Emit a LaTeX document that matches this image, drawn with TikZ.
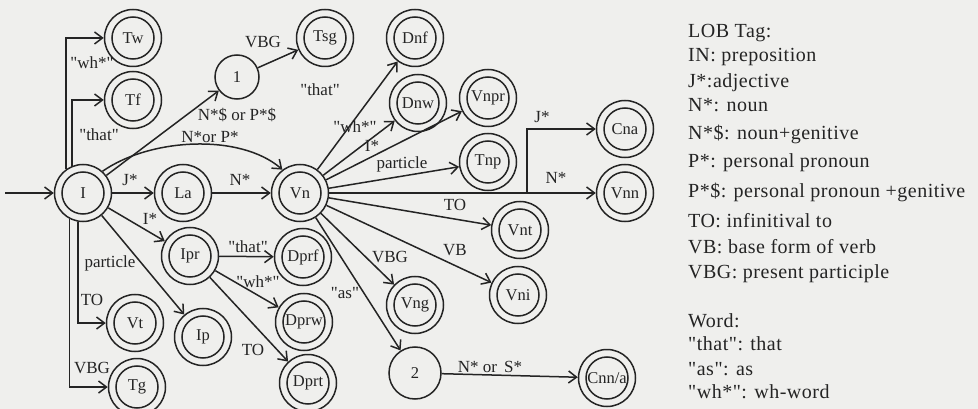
\documentclass[tikz,border=0pt]{standalone}
\usepackage{fontspec}
\setmainfont{Liberation Serif}[Ligatures=TeXOff]
\newfontfamily\legendfont{Liberation Serif}[Ligatures=TeXOff, LetterSpace=2.5]
\usetikzlibrary{arrows.meta}
\definecolor{ink}{RGB}{36,36,36}
\definecolor{paper}{RGB}{239,239,237}

\begin{document}
\begin{tikzpicture}[x=1pt,y=-1pt,
  every node/.style={text=ink},
  acc/.style={circle, draw=ink, line width=1.5pt, minimum size=57pt, inner sep=0pt,
    font=\fontsize{16.5}{16.5}\selectfont,
    path picture={\draw[ink, line width=1.5pt] (path picture bounding box.center) circle[radius=21pt];}},
  st/.style={circle, draw=ink, line width=1.5pt, inner sep=0pt, font=\fontsize{16.5}{16.5}\selectfont},
  arr/.style={draw=ink, line width=1.5pt, -{Straight Barb[length=8pt,width=12pt,line width=1.5pt]}},
  lab/.style={font=\fontsize{17}{17}\selectfont, inner sep=0pt},
  leg/.style={font=\legendfont\fontsize{20}{20}\selectfont, anchor=base west, inner sep=0pt}]

% paper
\fill[paper] (0,0) rectangle (978,409);
\useasboundingbox (0,0) rectangle (978,409);

% states
\node[acc] (I)    at (83,193)  {I};
\node[acc] (Tw)   at (133,38)  {Tw};
\node[acc] (Tf)   at (133,100) {Tf};
\node[st, minimum size=44pt] (n1) at (237,77) {1};
\node[acc] (Tsg)  at (325,38)  {Tsg};
\node[acc] (Dnf)  at (415,38)  {Dnf};
\node[acc] (Dnw)  at (418,103) {Dnw};
\node[acc] (Vnpr) at (488,98)  {Vnpr};
\node[acc] (Tnp)  at (488,162) {Tnp};
\node[acc] (Cna)  at (625,129) {Cna};
\node[acc] (Vnn)  at (625,193) {Vnn};
\node[acc] (La)   at (183,193) {La};
\node[acc] (Vn)   at (300,193) {Vn};
\node[acc] (Ipr)  at (190,256) {Ipr};
\node[acc] (Dprf) at (303,257) {Dprf};
\node[acc] (Dprw) at (304,322) {Dprw};
\node[acc] (Dprt) at (308,383) {Dprt};
\node[acc] (Vt)   at (135,323) {Vt};
\node[acc] (Ip)   at (203,337) {Ip};
\node[acc] (Tg)   at (137,387) {Tg};
\node[acc] (Vnt)  at (520,230) {Vnt};
\node[acc] (Vni)  at (518,295) {Vni};
\node[acc] (Vng)  at (415,305) {Vng};
\node[st, minimum size=52pt] (n2) at (415,373) {2};
\node[acc] (Cnn)  at (607,378) {Cnn/a};

\coordinate (start) at (5,193);
\coordinate (split) at (527,193);

% transitions
\draw[arr] (start) -- (I);
\draw[arr] (I.125) |- (Tw.west);
\draw[arr] (I.112) |- (Tf.west);
\draw[arr] (I.242) |- (Tg.west);
\draw[arr] (I.260) |- (Vt.west);
\draw[arr] (I) -- (La);
\draw[arr] (La) -- (Vn);
\draw[arr] (I) -- (n1);
\draw[arr] (I.48) .. controls (150,138) and (240,133) .. (Vn.127);
\draw[arr] (n1) -- (Tsg);
\draw[arr] (I) -- (Ipr);
\draw[arr] (I) -- (Ip);
\draw[arr] (Ipr) -- (Dprf);
\draw[arr] (Ipr) -- (Dprw);
\draw[arr] (Ipr) -- (Dprt);
\draw[arr] (Vn) -- (Dnf);
\draw[arr] (Vn) -- (Dnw);
\draw[arr] (Vn) -- (Vnpr);
\draw[arr] (Vn) -- (Tnp);
\draw[arr] (Vn) -- (Vnn);
\draw[arr] (split) |- (Cna.west);
\draw[arr] (Vn) -- (Vnt);
\draw[arr] (Vn) -- (Vni);
\draw[arr] (Vn) -- (Vng);
\draw[arr] (Vn) -- (n2);
\draw[arr] (n2) -- (Cnn);

% transition labels
\node[lab] (l-tw)   at (92,63)   {"wh*"};
\node[lab] (l-tf)   at (99,135)  {"that"};
\node[lab] (l-n1)   at (237,115) {N*\$ or P*\$};
\node[lab] (l-cv)   at (210,137) {N*or P*};
\node[lab] (l-tsg)  at (263,42)  {VBG};
\node[lab] (l-la)   at (130,180) {J*};
\node[lab] (l-vn)   at (240,180) {N*};
\node[lab] (l-ipr)  at (150,219) {I*};
\node[lab] (l-ip)   at (110,263) {particle};
\node[lab] (l-vt)   at (92,300)  {TO};
\node[lab] (l-tg)   at (92,368)  {VBG};
\node[lab] (l-dprf) at (248,247) {"that"};
\node[lab] (l-dprw) at (258,282) {"wh*"};
\node[lab] (l-dprt) at (253,350) {TO};
\node[lab] (l-dnf)  at (320,90)  {"that"};
\node[lab] (l-dnw)  at (355,127) {"wh*"};
\node[lab] (l-vnpr) at (372,146) {I*};
\node[lab] (l-tnp)  at (402,164) {particle};
\node[lab] (l-cna)  at (542,117) {J*};
\node[lab] (l-vnn)  at (556,178) {N*};
\node[lab] (l-vnt)  at (455,205) {TO};
\node[lab] (l-vni)  at (455,250) {VB};
\node[lab] (l-vng)  at (390,257) {VBG};
\node[lab] (l-n2)   at (345,293) {"as"};
\node[lab] (l-cnn)  at (490,367) {N* or\, S*};

% legend
\node[leg] (g1)  at (688,38)  {LOB Tag:};
\node[leg] (g2)  at (688,62)  {IN: preposition};
\node[leg] (g3)  at (688,88)  {J*:adjective};
\node[leg] (g4)  at (688,112) {N*: noun};
\node[leg] (g5)  at (688,140) {N*\$: noun+genitive};
\node[leg] (g6)  at (688,168) {P*: personal pronoun};
\node[leg] (g7)  at (688,198) {P*\$: personal pronoun +genitive};
\node[leg] (g8)  at (688,227) {TO: infinitival to};
\node[leg] (g9)  at (688,253) {VB: base form of verb};
\node[leg] (g10) at (688,278) {VBG: present participle};
\node[leg] (g11) at (688,327) {Word:};
\node[leg] (g12) at (688,350) {"that": that};
\node[leg] (g13) at (688,375) {"as": as};
\node[leg] (g14) at (688,398) {"wh*": wh-word};
\end{tikzpicture}
\end{document}
